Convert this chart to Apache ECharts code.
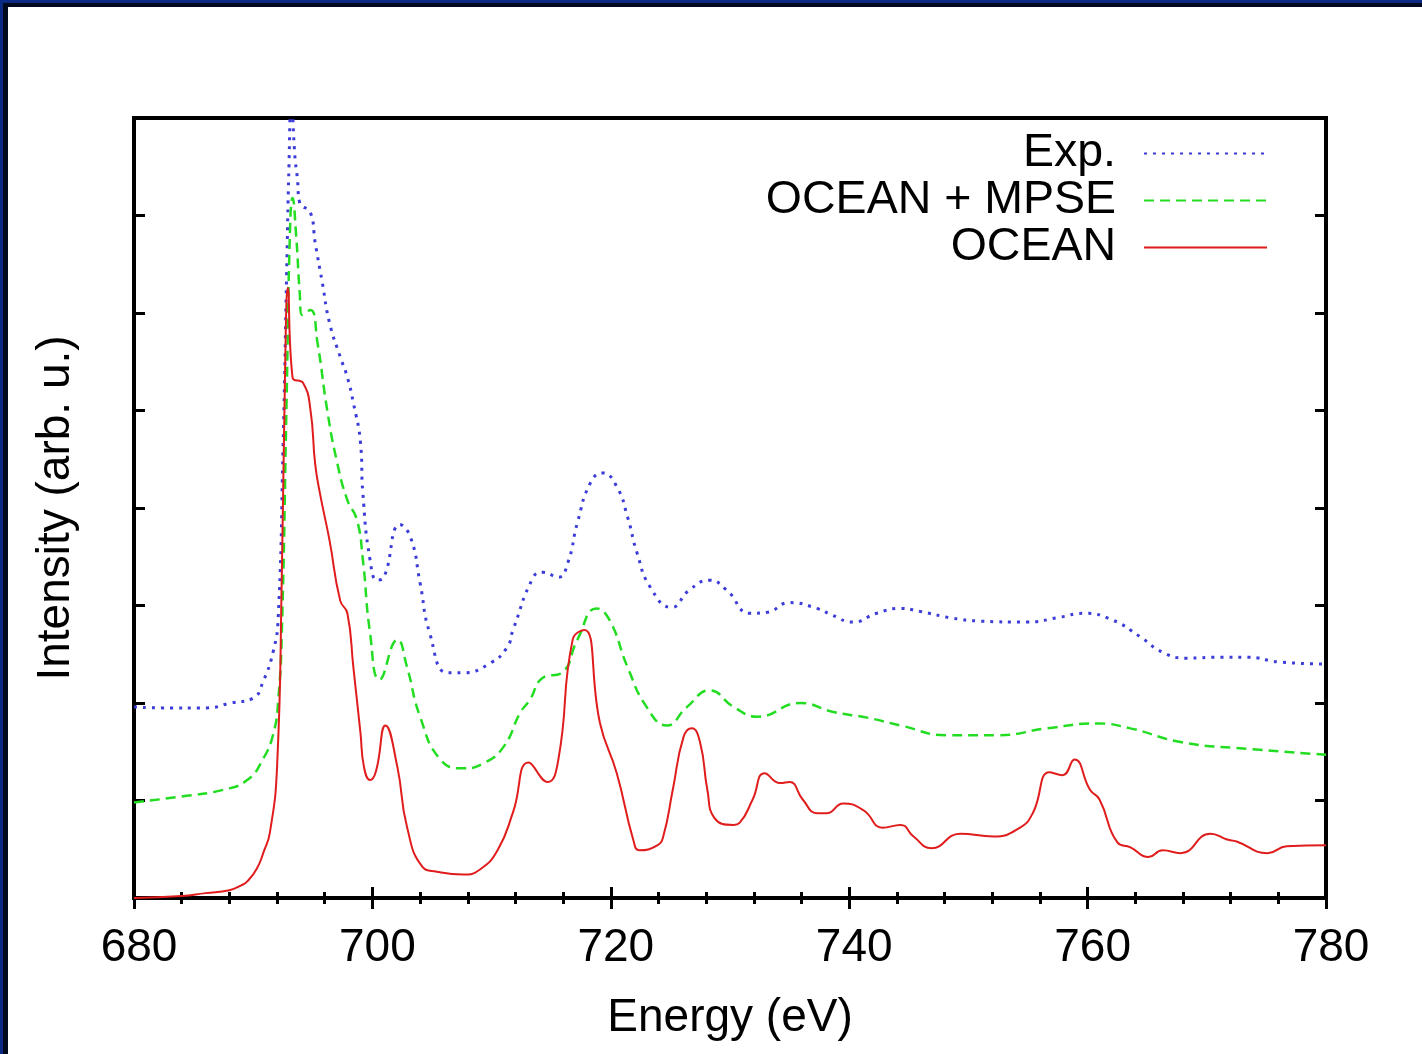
<!DOCTYPE html>
<html>
<head>
<meta charset="utf-8">
<script src="https://cdn.jsdelivr.net/npm/echarts@6/dist/echarts.min.js"></script>
<style>
html,body{margin:0;padding:0;background:#fff;}
#chart{position:absolute;left:0;top:0;width:1422px;height:1054px;}
.bo{position:absolute;pointer-events:none;}
</style>
</head>
<body>
<div id="chart"></div>
<div class="bo" style="left:0;top:0;width:1422px;height:3px;background:#0b2a84;"></div>
<div class="bo" style="left:0;top:3px;width:1422px;height:4px;background:#020a1e;"></div>
<div class="bo" style="left:0;top:0;width:3px;height:1054px;background:#0b2a84;"></div>
<div class="bo" style="left:3px;top:3px;width:5px;height:1051px;background:#020a1e;"></div>
<script>
// Energy axis (eV) and intensity (arb. u.)
const xTicks = [680, 700, 720, 740, 760, 780];

const expE = [680, 682.4, 686.1, 688.1, 690.0, 690.8, 691.7, 692.1, 692.5, 692.8, 693.0, 693.2, 693.5, 693.7, 693.9, 694.8, 695.2, 695.8, 696.4, 697.3, 697.9, 698.4, 699.0, 699.2, 699.8, 700.4, 700.9, 702.3, 703.2, 704.0, 704.8, 706.3, 707.6, 709.9, 711.3, 711.8, 713.5, 714.3, 715.6, 716.4, 717.2, 718.3, 719.3, 720.5, 721.4, 722.2, 723.3, 725.1, 726.6, 728.3, 729.7, 731.7, 733.1, 735.0, 737.3, 738.6, 740.3, 742.3, 744.3, 745.9, 748.7, 751.0, 754.9, 757.7, 759.6, 762.1, 764.4, 766.3, 768.3, 771.1, 773.4, 776.1, 780];
const expI = [1.96, 1.95, 1.95, 2.0, 2.05, 2.21, 2.54, 2.88, 4.6, 6.37, 7.5, 8.2, 7.6, 7.39, 7.13, 7.03, 6.72, 6.31, 5.9, 5.55, 5.34, 5.08, 4.67, 4.15, 3.47, 3.26, 3.28, 3.83, 3.70, 3.23, 2.72, 2.31, 2.31, 2.41, 2.57, 2.75, 3.29, 3.34, 3.29, 3.44, 3.85, 4.26, 4.36, 4.22, 3.91, 3.54, 3.19, 2.98, 3.16, 3.26, 3.16, 2.92, 2.93, 3.03, 2.97, 2.90, 2.83, 2.92, 2.97, 2.94, 2.87, 2.84, 2.83, 2.88, 2.92, 2.85, 2.68, 2.52, 2.46, 2.47, 2.47, 2.42, 2.40];

const mpseE = [680, 683.9, 687.5, 689.5, 690.8, 691.7, 692.1, 692.4, 692.8, 693.1, 693.3, 693.6, 693.9, 694.1, 694.8, 695.4, 696.2, 697.0, 697.9, 698.7, 699.2, 699.8, 700.6, 702.1, 702.9, 704.0, 705.7, 707.6, 709.3, 711.0, 712.4, 713.2, 714.3, 715.9, 717.2, 718.8, 719.9, 721.4, 723.0, 724.7, 726.4, 728.3, 730.3, 732.3, 735.9, 738.6, 741.5, 744.3, 748.2, 752.4, 756.6, 760.8, 763.6, 767.8, 773.4, 780];
const mpseI = [0.98, 1.04, 1.11, 1.21, 1.42, 1.69, 2.03, 2.72, 5.1, 6.9, 7.18, 6.8, 6.21, 5.98, 6.03, 5.69, 5.01, 4.49, 4.08, 3.88, 3.47, 2.72, 2.24, 2.65, 2.37, 1.86, 1.42, 1.33, 1.38, 1.55, 1.90, 2.03, 2.26, 2.31, 2.65, 2.97, 2.85, 2.37, 1.96, 1.77, 1.96, 2.13, 1.96, 1.86, 2.0, 1.91, 1.85, 1.77, 1.67, 1.67, 1.74, 1.79, 1.74, 1.60, 1.53, 1.47];

const oceanE = [680, 684, 686, 688, 689, 689.5, 690.3, 690.9, 691.4, 692.0, 692.4, 692.7, 692.9, 693.3, 694.2, 694.8, 695.2, 695.6, 696.4, 697.3, 697.9, 698.4, 699.0, 699.3, 699.8, 700.3, 701.1, 702.1, 702.9, 704.2, 705.4, 707.6, 709.0, 710.5, 711.8, 713.1, 714.7, 715.6, 716.8, 717.8, 719.1, 720.5, 721.9, 722.4, 723.9, 724.4, 725.2, 726.1, 726.8, 727.5, 728.1, 728.7, 730.3, 730.8, 731.9, 732.9, 734.2, 735.0, 736.1, 737.3, 738.1, 739.5, 741.2, 742.8, 744.3, 745.4, 746.9, 749.3, 752.1, 754.3, 755.4, 756.8, 757.9, 758.9, 760.2, 761.0, 762.5, 763.6, 765.1, 766.3, 767.8, 770.3, 771.7, 772.5, 775.1, 776.7, 780];
const oceanI = [0, 0.02, 0.05, 0.08, 0.13, 0.17, 0.30, 0.48, 0.67, 1.34, 3.3, 5.6, 6.26, 5.34, 5.28, 5.01, 4.45, 4.15, 3.67, 3.05, 2.92, 2.37, 1.69, 1.34, 1.21, 1.30, 1.77, 1.34, 0.73, 0.32, 0.27, 0.24, 0.29, 0.49, 0.88, 1.39, 1.19, 1.42, 2.65, 2.75, 1.79, 1.28, 0.59, 0.49, 0.54, 0.63, 1.11, 1.65, 1.74, 1.59, 1.11, 0.82, 0.75, 0.77, 1.01, 1.28, 1.18, 1.19, 1.01, 0.87, 0.87, 0.97, 0.90, 0.72, 0.75, 0.63, 0.51, 0.66, 0.63, 0.72, 0.87, 1.29, 1.26, 1.42, 1.11, 1.01, 0.57, 0.52, 0.42, 0.49, 0.46, 0.66, 0.60, 0.58, 0.46, 0.53, 0.54];

const zip = (xs, ys) => xs.map((x, i) => [x, ys[i]]);

const FONT = '"Liberation Sans", Arial, Helvetica, sans-serif';
const chart = echarts.init(document.getElementById('chart'), null, {renderer: 'canvas'});

const baseX = {
  type: 'value', min: 680, max: 780, interval: 20,
  axisLine: {show: false},
  axisTick: {show: true, inside: true, length: 11, lineStyle: {color: '#000', width: 3}},
  minorTick: {show: true, splitNumber: 5, length: 6, lineStyle: {color: '#000', width: 3}},
  splitLine: {show: false}, minorSplitLine: {show: false}
};
const baseY = {
  type: 'value', min: 0, max: 8, interval: 1,
  axisLine: {show: false},
  axisTick: {show: true, inside: true, length: 11, lineStyle: {color: '#000', width: 3}},
  axisLabel: {show: false},
  splitLine: {show: false}
};

chart.setOption({
  backgroundColor: '#ffffff',
  animation: false,
  grid: {left: 134, top: 118, right: 96, bottom: 156, outerBoundsMode: 'none', containLabel: false,
    show: true, borderColor: '#000', borderWidth: 4, backgroundColor: 'transparent'},
  legend: {
    orient: 'vertical', right: 154, top: 130, padding: 0, itemGap: 0,
    align: 'right', itemWidth: 123, itemHeight: 14,
    itemStyle: {opacity: 0},
    textStyle: {fontFamily: FONT, fontSize: 46.5, color: '#000', lineHeight: 46, padding: [0, 23, 0, 0]},
    data: ['Exp.', 'OCEAN + MPSE', 'OCEAN']
  },
  xAxis: [
    Object.assign({}, baseX, {
      position: 'bottom',
      axisLabel: {show: true, fontFamily: FONT, fontSize: 46, color: '#000', margin: 27,
        padding: [0, 0, 0, 10], customValues: xTicks},
      name: 'Energy (eV)', nameLocation: 'middle', nameGap: 97,
      nameTextStyle: {fontFamily: FONT, fontSize: 46, color: '#000'}
    }),
    Object.assign({}, baseX, {position: 'top', axisLabel: {show: false}})
  ],
  yAxis: [
    Object.assign({}, baseY, {
      position: 'left',
      name: 'Intensity (arb. u.)', nameLocation: 'middle', nameGap: 55, nameRotate: 90,
      nameTextStyle: {fontFamily: FONT, fontSize: 46, color: '#000'}
    }),
    Object.assign({}, baseY, {position: 'right'})
  ],
  series: [
    {name: 'Exp.', type: 'line', data: zip(expE, expI), showSymbol: false, symbol: 'none',
      smooth: 0.5, clip: true,
      lineStyle: {color: '#3c3cd8', width: 3, type: [3, 6], cap: 'butt'}, itemStyle: {color: '#3c3cd8'}},
    {name: 'OCEAN + MPSE', type: 'line', data: zip(mpseE, mpseI), showSymbol: false, symbol: 'none',
      smooth: 0.5, clip: true,
      lineStyle: {color: '#22dd22', width: 2.5, type: [10, 6]}, itemStyle: {color: '#22dd22'}},
    {name: 'OCEAN', type: 'line', data: zip(oceanE, oceanI), showSymbol: false, symbol: 'none',
      smooth: 0.5, clip: true,
      lineStyle: {color: '#e01c1c', width: 2}, itemStyle: {color: '#e01c1c'}}
  ]
});
</script>
</body>
</html>
